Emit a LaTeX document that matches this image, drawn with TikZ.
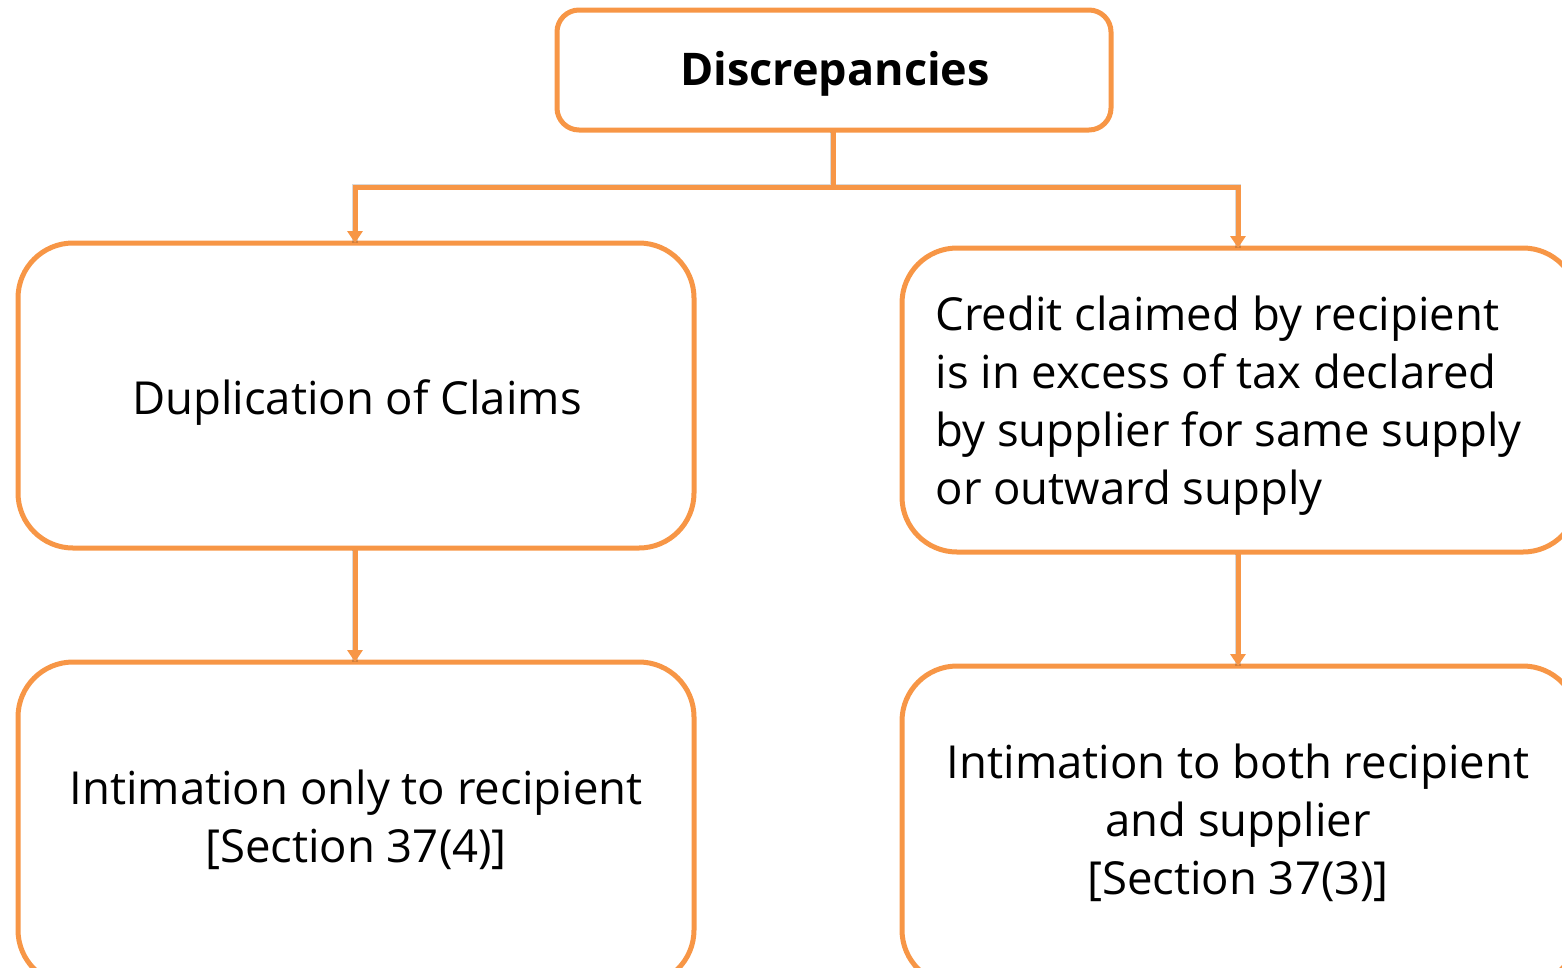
\documentclass[tikz,border=0pt]{standalone}
\usepackage{fontspec}
\setmainfont{Open Sans}
\usetikzlibrary{arrows.meta}
\definecolor{accent}{HTML}{F79646}
\tikzset{
  box/.style={draw=accent, line width=5pt, fill=white},
  link/.style={draw=accent, line width=5pt},
  shade/.style={draw=black, opacity=0.15, line width=6pt},
  tip/.style={-{Triangle[length=12pt,width=15pt]}},
  body/.style={font=\fontsize{45.5}{58}\selectfont, text=black, align=center},
}
\begin{document}
\begin{tikzpicture}[x=1pt,y=-1pt]
\useasboundingbox (0,0) rectangle (1562,967);
\clip (0,0) rectangle (1562,967);

% boxes
\draw[box, rounded corners=22pt] (557,10) rectangle (1111,130);
\draw[box, rounded corners=55pt] (18,243) rectangle (694,548);
\draw[box, rounded corners=55pt] (902,248) rectangle (1578,552);
\draw[box, rounded corners=55pt] (18,662) rectangle (694,985);
\draw[box, rounded corners=55pt] (902,666) rectangle (1578,985);

% anchor points for the connectors
\coordinate (top) at (833,132);
\coordinate (split) at (833,187);
\coordinate (dup) at (355,243);
\coordinate (exc) at (1238,248);
\coordinate (dupB) at (355,550);
\coordinate (only) at (355,662);
\coordinate (excB) at (1238,554);
\coordinate (both) at (1238,666);

% soft shadows under the connectors
\draw[shade, shift={(3pt,-3pt)}] (top) -- (split) -- (dup |- split) -- (dup);
\draw[shade, shift={(3pt,-3pt)}] (split) -- (exc |- split) -- (exc);
\draw[shade, shift={(3pt,-3pt)}] (dupB) -- (only);
\draw[shade, shift={(3pt,-3pt)}] (excB) -- (both);

% connectors
\draw[link, tip] (top) -- (split) -- (dup |- split) -- (dup);
\draw[link, tip] (split) -- (exc |- split) -- (exc);
\draw[link, tip] (dupB) -- (only);
\draw[link, tip] (excB) -- (both);

% labels
\node[font=\fontsize{45}{52}\selectfont\bfseries] (disc) at (835,74) {Discrepancies};
\node[body] (dupT) at (357,403) {Duplication of Claims};
\node[body, align=left, anchor=west] (excT) at (932,406) {Credit claimed by recipient\\is in excess of tax declared\\by supplier for same supply\\or outward supply};
\node[body] (onlyT) at (356,820) {Intimation only to recipient\\{}[Section 37(4)]};
\node[body] (bothT) at (1238,823) {Intimation to both recipient\\and supplier\\{}[Section 37(3)]};
\end{tikzpicture}
\end{document}
